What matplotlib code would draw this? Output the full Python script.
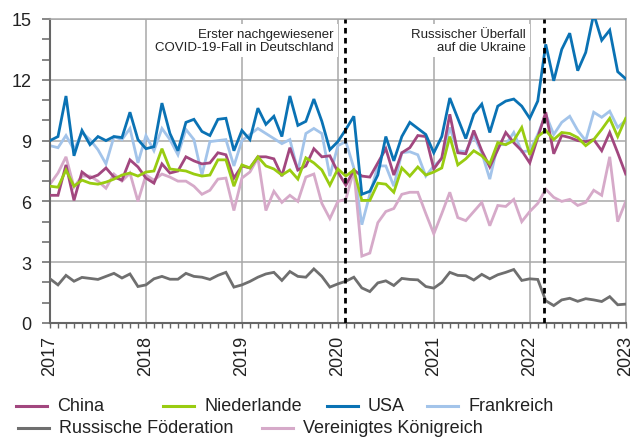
import numpy as np
import matplotlib
matplotlib.use("Agg")
import matplotlib.pyplot as plt
from matplotlib.ticker import MultipleLocator
from matplotlib.lines import Line2D

plt.rcParams['font.family'] = ['Liberation Sans', 'DejaVu Sans']

# monthly values, Jan 2017 .. Jan 2023
china = [6.3, 6.3, 7.8, 6.05, 7.45, 7.15, 7.3, 7.65, 7.2, 7.05, 8.05, 7.7,
         7.15, 6.9, 7.85, 7.4, 7.5, 8.2, 8.0, 7.85, 7.9, 8.4, 8.3, 7.15,
         7.75, 7.65, 8.2, 8.2, 8.1, 7.25, 8.65, 7.55, 7.75, 8.6, 8.2, 8.25,
         7.45, 6.8, 7.55, 7.25, 7.2, 7.9, 8.6, 7.3, 8.4, 8.65, 9.25, 9.2,
         7.6, 8.15, 10.3, 8.4, 8.35, 9.5, 8.5, 7.7, 8.55, 9.4, 8.9, 8.5,
         7.9, 9.15, 10.4, 8.35, 9.25, 9.15, 9.0, 8.95, 9.05, 8.5, 9.4, 8.4,
         7.35]
niederlande = [6.75, 6.7, 7.55, 6.75, 7.05, 6.9, 6.85, 6.95, 7.1, 7.3, 7.4, 7.25,
               7.45, 7.5, 8.6, 7.6, 7.55, 7.5, 7.35, 7.25, 7.3, 8.05, 8.05, 6.75,
               7.8, 7.65, 8.2, 7.75, 7.6, 7.3, 7.55, 7.1, 8.15, 7.9, 7.55, 6.8,
               7.6, 7.25, 7.55, 6.05, 6.05, 6.9, 6.85, 6.45, 7.65, 7.25, 7.7, 7.3,
               7.45, 7.65, 9.2, 7.8, 8.1, 8.5, 8.25, 7.85, 8.9, 8.8, 9.0, 9.65,
               8.3, 9.2, 9.5, 9.05, 9.4, 9.35, 9.15, 8.75, 9.05, 9.55, 10.1, 9.2,
               10.1]
usa = [9.0, 9.2, 11.2, 8.25, 9.5, 8.8, 9.2, 9.0, 9.2, 9.15, 10.4, 9.05,
       8.6, 8.7, 10.85, 9.35, 8.5, 9.9, 10.05, 9.45, 9.25, 10.05, 10.1, 8.5,
       9.5, 9.05, 10.6, 9.8, 10.2, 9.2, 11.2, 9.75, 9.95, 11.05, 9.95, 8.55,
       8.95, 9.55, 10.2, 6.35, 6.5, 7.3, 9.2, 8.0, 9.2, 9.9, 9.6, 9.3,
       8.4, 9.2, 11.1, 10.1, 9.1, 10.3, 10.8, 9.4, 10.7, 10.95, 11.05, 10.7,
       10.1, 10.95, 13.75, 11.95, 13.5, 14.3, 12.45, 13.35, 15.25, 13.95, 14.45, 12.4,
       12.05]
frankreich = [8.75, 8.65, 9.25, 8.55, 9.4, 9.05, 8.55, 7.85, 9.2, 9.05, 9.6, 7.9,
              9.25, 8.5, 9.6, 9.05, 8.3, 9.55, 9.05, 7.3, 8.95, 9.0, 9.05, 7.75,
              9.0, 9.3, 9.6, 9.35, 9.1, 8.85, 9.05, 7.5, 9.35, 9.6, 9.35, 7.25,
              8.75, 8.95, 7.65, 4.85, 6.35, 7.75, 7.75, 6.75, 8.4, 8.45, 8.3, 7.25,
              7.75, 8.1, 9.65, 8.5, 8.45, 9.25, 8.4, 7.1, 8.8, 8.8, 9.4, 8.45,
              8.5, 9.3, 10.3, 9.3, 9.9, 10.2, 9.5, 9.0, 10.4, 10.15, 10.45, 9.65,
              10.0]
russland = [2.18, 1.88, 2.35, 2.06, 2.25, 2.2, 2.15, 2.3, 2.45, 2.22, 2.42, 1.8,
            1.88, 2.18, 2.3, 2.16, 2.16, 2.45, 2.3, 2.26, 2.15, 2.35, 2.5, 1.77,
            1.88, 2.05, 2.26, 2.42, 2.5, 2.1, 2.54, 2.3, 2.26, 2.67, 2.3, 1.77,
            1.93, 2.06, 2.26, 1.73, 1.55, 1.98, 2.08, 1.85, 2.2, 2.15, 2.13, 1.8,
            1.72, 2.0, 2.5, 2.35, 2.33, 2.12, 2.4, 2.18, 2.38, 2.5, 2.64, 2.1,
            2.18, 2.15, 1.1, 0.86, 1.14, 1.22, 1.07, 1.2, 1.14, 1.06, 1.3, 0.9,
            0.93]
uk = [6.85, 7.4, 8.2, 6.7, 7.25, 7.25, 7.0, 6.65, 7.35, 7.0, 7.4, 6.0,
      7.3, 7.05, 7.35, 7.2, 7.0, 7.0, 6.75, 6.35, 6.55, 7.1, 7.15, 5.55,
      7.15, 7.45, 8.15, 5.55, 6.5, 5.95, 6.3, 6.0, 7.2, 7.35, 5.9, 5.15,
      6.0, 6.1, 7.55, 3.3, 3.45, 4.95, 5.5, 5.65, 6.35, 6.45, 6.45, 5.4,
      4.4, 5.4, 6.45, 5.2, 5.05, 5.5, 5.95, 4.8, 5.8, 5.75, 6.1, 5.0,
      5.5, 5.9, 6.6, 6.2, 6.0, 6.1, 5.8, 5.95, 6.55, 6.3, 8.2, 5.0,
      6.0]

years = [2017, 2018, 2019, 2020, 2021, 2022, 2023]
months = 2017 + np.arange(len(usa)) / 12.0

covid_date = 2020 + 26 / 366.0
ukraine_date = 2022 + 54 / 365.0

series = [
    ("China", china, "#a2477f", 3),
    ("Niederlande", niederlande, "#99cc11", 4),
    ("USA", usa, "#0a72b4", 5),
    ("Frankreich", frankreich, "#a3c4ea", 2),
    ("Russische Föderation", russland, "#6f6f6f", 3),
    ("Vereinigtes Königreich", uk, "#d6aac9", 2),
]

fig = plt.figure(figsize=(6.35, 4.39), dpi=100)
ax = fig.add_axes([50 / 635, 1 - 324 / 439, 575.7 / 635, 304 / 439])

for name, vals, col, z in series:
    ax.plot(months, vals, color=col, lw=2.0, zorder=z, solid_joinstyle='miter')

ax.set_xlim(2017, 2023)
ax.set_ylim(0, 15)
ax.set_yticks([0, 3, 6, 9, 12, 15])
ax.yaxis.set_minor_locator(MultipleLocator(1))
ax.set_xticks(years)
ax.set_xticklabels([str(y) for y in years])
ax.set_xticks(months, minor=True)

ax.grid(True, which='major', color='#a8a8a8', lw=1.1)
ax.set_axisbelow(True)
for s in ['top', 'right']:
    ax.spines[s].set_color('#a8a8a8')
    ax.spines[s].set_linewidth(1.1)
for s in ['left', 'bottom']:
    ax.spines[s].set_color('#666666')
    ax.spines[s].set_linewidth(1.5)

ax.tick_params(axis='y', which='both', length=5.5, width=1.1, color='#666666',
               labelsize=13, pad=8, labelcolor='#222222')
ax.tick_params(axis='x', which='both', length=3.5, width=1.0, color='#666666',
               labelsize=13, pad=5, labelcolor='#222222', labelrotation=90)

# event markers
for d in [covid_date, ukraine_date]:
    ax.axvline(d, color='black', lw=2.0, ls=(0, (2.0, 1.6)), zorder=7)

box = dict(facecolor='white', edgecolor='none', pad=3)
ax.text(2019.955, 14.55, "Erster nachgewiesener\nCOVID-19-Fall in Deutschland",
        ha='right', va='top', fontsize=9.5, color='#222222', linespacing=1.12,
        bbox=box, zorder=6)
ax.text(2021.955, 14.55, "Russischer Überfall\nauf die Ukraine",
        ha='right', va='top', fontsize=9.5, color='#222222', linespacing=1.12,
        bbox=box, zorder=6)

# legend, laid out by hand in two rows
W, H = 635.0, 439.0
rows = [
    (407, [(0, 16), (1, 163), (2, 327), (3, 427)]),
    (428.5, [(4, 18), (5, 262)]),
]
for ypx, items in rows:
    for idx, xpx in items:
        name, vals, col, z = series[idx]
        y = 1 - ypx / H
        fig.add_artist(Line2D([xpx / W, (xpx + 31) / W], [y, y],
                              transform=fig.transFigure, color=col, lw=2.2))
        fig.text((xpx + 41) / W, y, name, fontsize=13, color='#222222',
                 va='center', ha='left')

fig.savefig("out.png", dpi=100)
